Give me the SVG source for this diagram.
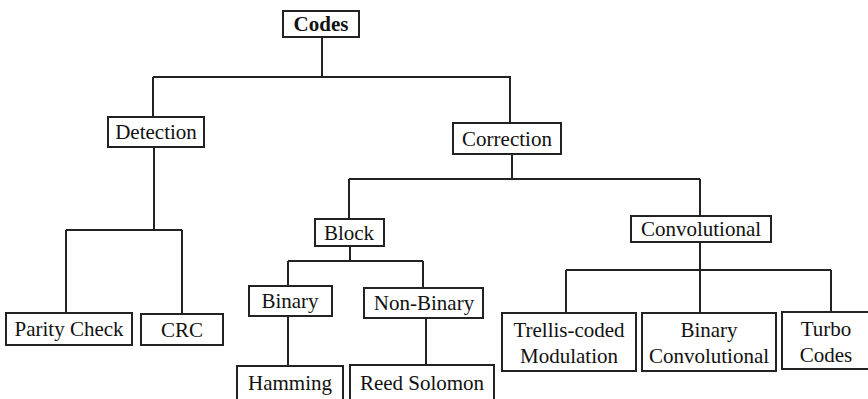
<svg xmlns="http://www.w3.org/2000/svg" width="868" height="399" viewBox="0 0 868 399">
<style>
.box{fill:#fff;stroke:#222;stroke-width:2}
.t{font-family:'Times New Roman','Liberation Serif',Tinos,'DejaVu Serif',serif;font-size:21px;fill:#111;text-anchor:middle}
.b{font-weight:bold}
.c{fill:none;stroke:#222;stroke-width:2}
</style>
<rect width="868" height="399" fill="#fff"/>
<g id="connectors">
<path class="c" d="M322 37V77M153 77H510V123M153 77V117"/>
<path class="c" d="M154 147V230M66 230H182M66 230V313M182 230V314"/>
<path class="c" d="M512 154V179M349 179H700M349 179V219M700 179V216"/>
<path class="c" d="M350 246V261M288 261H423M288 261V286M423 261V288"/>
<path class="c" d="M288 316V366M426 318V365"/>
<path class="c" d="M700 242V270M566 270H831M566 270V313M700 270V313M831 270V312"/>
</g>
<g id="codes"><rect class="box" x="283" y="11" width="76" height="26"/><text class="t b" x="321" y="31">Codes</text></g>
<g id="detection"><rect class="box" x="108" y="117" width="96" height="30"/><text class="t" x="156" y="139">Detection</text></g>
<g id="correction"><rect class="box" x="453" y="123" width="108" height="31"/><text class="t" x="507" y="146">Correction</text></g>
<g id="parity"><rect class="box" x="6" y="313" width="126" height="32"/><text class="t" x="69" y="336">Parity Check</text></g>
<g id="crc"><rect class="box" x="141" y="314" width="82" height="31"/><text class="t" x="182" y="337">CRC</text></g>
<g id="block"><rect class="box" x="315" y="219" width="69" height="27"/><text class="t" x="349" y="240">Block</text></g>
<g id="convolutional"><rect class="box" x="631" y="216" width="140" height="26"/><text class="t" x="701" y="236">Convolutional</text></g>
<g id="binary"><rect class="box" x="249" y="286" width="83" height="30"/><text class="t" x="290" y="308">Binary</text></g>
<g id="nonbinary"><rect class="box" x="364" y="288" width="119" height="30"/><text class="t" x="424" y="310">Non-Binary</text></g>
<g id="hamming"><rect class="box" x="237" y="366" width="106" height="40"/><text class="t" x="290" y="390">Hamming</text></g>
<g id="reedsolomon"><rect class="box" x="350" y="365" width="144" height="40"/><text class="t" x="422" y="390">Reed Solomon</text></g>
<g id="trellis"><rect class="box" x="502" y="313" width="134" height="58"/><text class="t" x="569" y="337">Trellis-coded</text><text class="t" x="569" y="363">Modulation</text></g>
<g id="binaryconv"><rect class="box" x="642" y="313" width="134" height="58"/><text class="t" x="709" y="337">Binary</text><text class="t" x="709" y="363">Convolutional</text></g>
<g id="turbo"><rect class="box" x="782" y="312" width="90" height="57"/><text class="t" x="826" y="336">Turbo</text><text class="t" x="826" y="362">Codes</text></g>
</svg>
